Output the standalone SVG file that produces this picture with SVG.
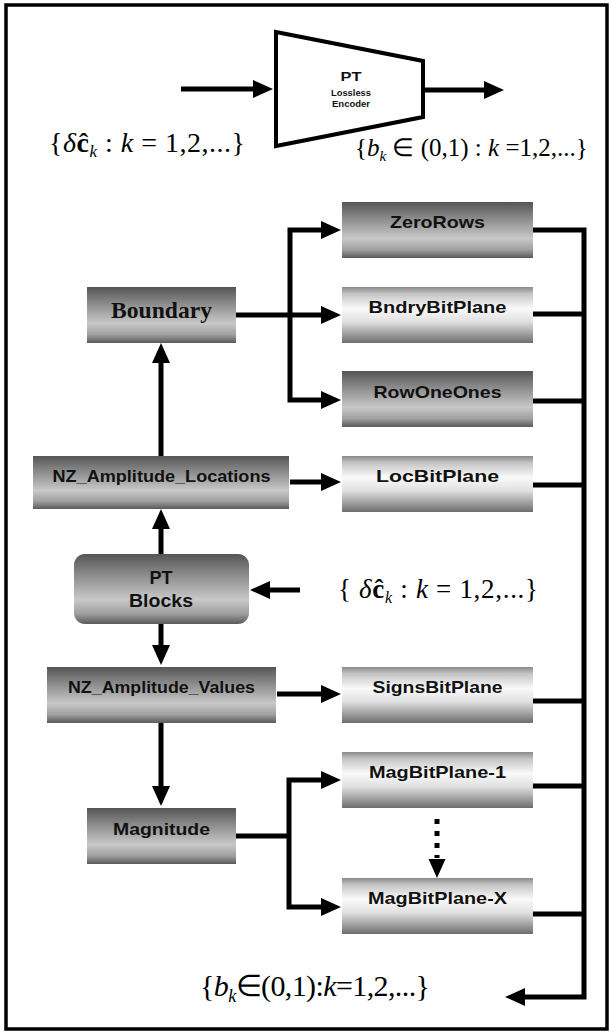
<svg xmlns="http://www.w3.org/2000/svg" width="610" height="1033" viewBox="0 0 610 1033">
<style>
.lbl{font-family:"Liberation Sans",Arial,sans-serif;font-weight:bold;font-size:17px;fill:#111;text-anchor:middle}
.math{font-family:"Liberation Serif","Times New Roman",serif;fill:#000}
.ln{fill:none;stroke:#000;stroke-width:5;stroke-linejoin:miter}
.dk{fill:url(#gDark)}
.lt{fill:url(#gLight)}
</style>
<defs>
<linearGradient id="gDark" x1="0" y1="0" x2="0" y2="1">
<stop offset="0" stop-color="#555"/>
<stop offset="0.3" stop-color="#8c8c8c"/>
<stop offset="0.65" stop-color="#c8c8c8"/>
<stop offset="0.85" stop-color="#a0a0a0"/>
<stop offset="1" stop-color="#5a5a5a"/>
</linearGradient>
<linearGradient id="gLight" x1="0" y1="0" x2="0" y2="1">
<stop offset="0" stop-color="#8a8a8a"/>
<stop offset="0.12" stop-color="#c4c4c4"/>
<stop offset="0.38" stop-color="#fafafa"/>
<stop offset="0.62" stop-color="#e0e0e0"/>
<stop offset="1" stop-color="#6e6e6e"/>
</linearGradient>
<marker id="ah" markerUnits="userSpaceOnUse" markerWidth="20" markerHeight="18" refX="8" refY="9" orient="auto" viewBox="0 0 20 18">
<path d="M0,0 L20,9 L0,18 z" fill="#000"/>
</marker>
</defs>
<rect x="0" y="0" width="610" height="1033" fill="#fff"/>
<rect x="6" y="5" width="601" height="1024" fill="none" stroke="#000" stroke-width="3.5"/>

<g id="encoder">
<polygon points="276,32 423,61 423,117 276,146" fill="#fff" stroke="#000" stroke-width="4"/>
<text class="lbl" x="351" y="81" style="font-size:13.5px" textLength="21" lengthAdjust="spacingAndGlyphs">PT</text>
<text class="lbl" x="351" y="96" style="font-size:9px" textLength="40" lengthAdjust="spacingAndGlyphs">Lossless</text>
<text class="lbl" x="351" y="107" style="font-size:9px" textLength="38" lengthAdjust="spacingAndGlyphs">Encoder</text>
</g>

<g id="math-top-left">
<text class="math" x="49" y="152" font-size="28" textLength="196" lengthAdjust="spacing">{<tspan font-style="italic">δ</tspan><tspan font-weight="bold">ĉ</tspan><tspan font-style="italic" font-size="17" dy="5">k</tspan><tspan dy="-5"> : </tspan><tspan font-style="italic">k</tspan> = 1,2,...}</text>
</g>
<g id="math-top-right">
<text class="math" x="355" y="156" font-size="25">{<tspan font-style="italic">b</tspan><tspan font-style="italic" font-size="15" dy="5">k</tspan><tspan dy="-5"> ∈ (0,1) : </tspan><tspan font-style="italic">k</tspan> =1,2,...}</text>
</g>
<g id="math-mid">
<text class="math" x="338" y="598" font-size="27" textLength="200" lengthAdjust="spacing">{ <tspan font-style="italic">δ</tspan><tspan font-weight="bold">ĉ</tspan><tspan font-style="italic" font-size="16" dy="5">k</tspan><tspan dy="-5"> : </tspan><tspan font-style="italic">k</tspan> = 1,2,...}</text>
</g>
<g id="math-bottom">
<text class="math" x="200" y="996" font-size="30" letter-spacing="-0.6">{<tspan font-style="italic">b</tspan><tspan font-style="italic" font-size="18" dy="6">k</tspan><tspan dy="-6">∈(0,1):</tspan><tspan font-style="italic">k</tspan>=1,2,...}</text>
</g>

<g id="node-boundary">
<rect class="dk" x="87" y="287" width="149" height="56"/>
<text x="161.5" y="318" font-family="'Liberation Serif','Times New Roman',serif" font-weight="bold" font-size="23" fill="#111" text-anchor="middle" textLength="101" lengthAdjust="spacingAndGlyphs">Boundary</text>
</g>
<g id="node-nzloc">
<rect class="dk" x="33" y="456" width="256" height="53"/>
<text class="lbl" x="161.5" y="482" textLength="218" lengthAdjust="spacingAndGlyphs">NZ_Amplitude_Locations</text>
</g>
<g id="node-ptblocks">
<rect class="dk" x="74" y="554" width="175" height="70" rx="11" ry="11"/>
<text class="lbl" x="161" y="584" style="font-size:18px" textLength="23" lengthAdjust="spacingAndGlyphs">PT</text>
<text class="lbl" x="161" y="607" style="font-size:18px" textLength="64" lengthAdjust="spacingAndGlyphs">Blocks</text>
</g>
<g id="node-nzval">
<rect class="dk" x="47" y="667" width="229" height="56"/>
<text class="lbl" x="161.5" y="693" textLength="187" lengthAdjust="spacingAndGlyphs">NZ_Amplitude_Values</text>
</g>
<g id="node-magnitude">
<rect class="dk" x="87" y="808" width="149" height="56"/>
<text class="lbl" x="161.5" y="835" textLength="97" lengthAdjust="spacingAndGlyphs">Magnitude</text>
</g>

<g id="node-zerorows">
<rect class="dk" x="342" y="202" width="191" height="56"/>
<text class="lbl" x="437.5" y="228" textLength="95" lengthAdjust="spacingAndGlyphs">ZeroRows</text>
</g>
<g id="node-bndrybitplane">
<rect class="lt" x="342" y="287" width="191" height="56"/>
<text class="lbl" x="437.5" y="313" textLength="138" lengthAdjust="spacingAndGlyphs">BndryBitPlane</text>
</g>
<g id="node-rowoneones">
<rect class="dk" x="342" y="371" width="191" height="56"/>
<text class="lbl" x="437.5" y="398" textLength="128" lengthAdjust="spacingAndGlyphs">RowOneOnes</text>
</g>
<g id="node-locbitplane">
<rect class="lt" x="342" y="456" width="191" height="56"/>
<text class="lbl" x="437.5" y="482" textLength="123" lengthAdjust="spacingAndGlyphs">LocBitPlane</text>
</g>
<g id="node-signsbitplane">
<rect class="lt" x="342" y="667" width="191" height="56"/>
<text class="lbl" x="437.5" y="693" textLength="130" lengthAdjust="spacingAndGlyphs">SignsBitPlane</text>
</g>
<g id="node-magbitplane1">
<rect class="lt" x="342" y="752" width="191" height="56"/>
<text class="lbl" x="437.5" y="778" textLength="137" lengthAdjust="spacingAndGlyphs">MagBitPlane-1</text>
</g>
<g id="node-magbitplaneX">
<rect class="lt" x="342" y="878" width="191" height="56"/>
<text class="lbl" x="437.5" y="904" textLength="139" lengthAdjust="spacingAndGlyphs">MagBitPlane-X</text>
</g>

<g id="connectors">
<path class="ln" d="M181,89 H261" marker-end="url(#ah)"/>
<path class="ln" d="M423,90 H492" marker-end="url(#ah)"/>
<path class="ln" d="M236,315 H329" marker-end="url(#ah)"/>
<path class="ln" d="M290,315 V230 H329" marker-end="url(#ah)"/>
<path class="ln" d="M290,315 V400 H329" marker-end="url(#ah)"/>
<path class="ln" d="M161,456 V355" marker-end="url(#ah)"/>
<path class="ln" d="M290,482 H329" marker-end="url(#ah)"/>
<path class="ln" d="M161,554 V521" marker-end="url(#ah)"/>
<path class="ln" d="M300,590 H262" marker-end="url(#ah)"/>
<path class="ln" d="M161,624 V653" marker-end="url(#ah)"/>
<path class="ln" d="M277,694 H329" marker-end="url(#ah)"/>
<path class="ln" d="M161,723 V794" marker-end="url(#ah)"/>
<path class="ln" d="M236,836 H289"/>
<path class="ln" d="M289,836 V780 H329" marker-end="url(#ah)"/>
<path class="ln" d="M289,836 V907 H329" marker-end="url(#ah)"/>
<path class="ln" d="M437,819 V858" stroke-dasharray="5,7"/>
<polygon points="428.5,859 445.5,859 437,878" fill="#000"/>
<path class="ln" d="M533,230 H584 V997 H517" marker-end="url(#ah)"/>
<path class="ln" d="M533,314 H584"/>
<path class="ln" d="M533,401 H584"/>
<path class="ln" d="M533,485 H584"/>
<path class="ln" d="M533,701 H584"/>
<path class="ln" d="M533,786 H584"/>
<path class="ln" d="M533,914 H584"/>
</g>
</svg>
